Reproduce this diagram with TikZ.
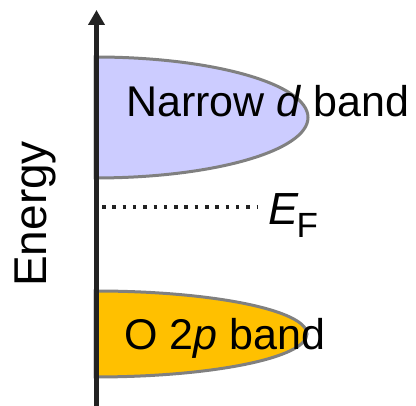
\documentclass[tikz,border=0pt]{standalone}
\usepackage{fontspec}
\setmainfont{Liberation Sans}
\usetikzlibrary{arrows.meta,positioning,calc}
\definecolor{dfill}{HTML}{CCCCFF}
\definecolor{pfill}{HTML}{FFC000}
\definecolor{axisgray}{HTML}{222222}
\definecolor{edgegray}{HTML}{808080}
\tikzset{
  band/.style={draw=edgegray, line width=3pt},
  bandtext/.style={font=\fontsize{43}{51}\selectfont, inner sep=0pt},
  axisline/.style={-{Triangle[width=16pt,length=15pt]}, line width=5pt, draw=axisgray},
  fermi/.style={line width=3.5pt, dash pattern=on 3.5pt off 6.8pt, draw=axisgray},
}

\begin{document}
\begin{tikzpicture}[x=1pt, y=1pt]
  \useasboundingbox (0,0) rectangle (416,406);

  % Bands
  \draw[band, fill=dfill] (95,349) arc[start angle=90, end angle=-90, x radius=213pt, y radius=60.5pt] -- cycle;
  \draw[band, fill=pfill] (95,115) arc[start angle=90, end angle=-90, x radius=212pt, y radius=43pt] -- cycle;

  % Energy axis
  \coordinate (origin) at (96.5,0);
  \coordinate (top) at (96.5,396);
  \draw[axisline] (origin) -- (top);
  \node[bandtext, font=\fontsize{46}{54}\selectfont, rotate=90, anchor=base west] (energy) at (46,119) {Energy};

  % Band labels
  \node[bandtext, anchor=base west] (dband) at (126,289) {Narrow \textit{d} band};
  \node[bandtext, anchor=base west] (pband) at (124,56) {O 2\textit{p} band};

  % Fermi level
  \coordinate (fstart) at (102,199);
  \node[inner sep=0pt, anchor=base west] (ef) at (268,181)
    {\fontsize{45}{50}\selectfont\textit{E}\kern-2pt\raisebox{-13pt}{\fontsize{35}{40}\selectfont F}};
  \draw[fermi] (fstart) -- (fstart -| ef.west) [shorten >=11pt];
\end{tikzpicture}
\end{document}
